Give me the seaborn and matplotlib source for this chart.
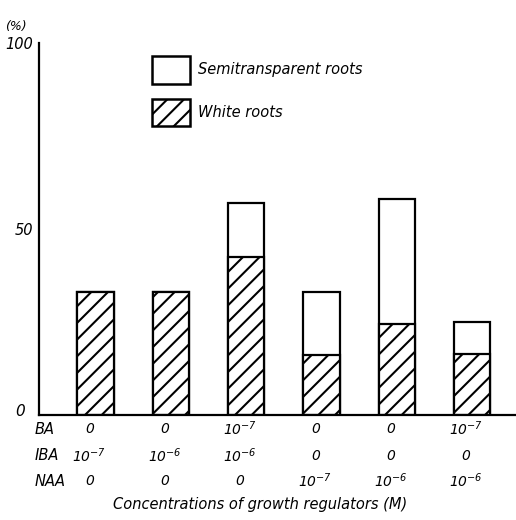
import pandas as pd
import seaborn as sns
import matplotlib.pyplot as plt
from matplotlib.patches import Patch

# Dados (%)
grupos = ['1', '2', '3', '4', '5', '6']
white_roots = [33, 33, 42.5, 16, 24.5, 16.5]
semi_roots = [0, 0, 14.5, 17, 33.5, 8.5]
ba = ['0', '0', '10$^{-7}$', '0', '0', '10$^{-7}$']
iba = ['10$^{-7}$', '10$^{-6}$', '10$^{-6}$', '0', '0', '0']
naa = ['0', '0', '0', '10$^{-7}$', '10$^{-6}$', '10$^{-6}$']

df = pd.DataFrame({'grupo': grupos, 'white': white_roots, 'semi': semi_roots})
df['total'] = df['white'] + df['semi']

sns.set_style('white')
plt.rcParams['font.family'] = ['DejaVu Sans']
plt.rcParams['font.style'] = 'italic'
plt.rcParams['hatch.linewidth'] = 1.5
plt.rcParams['text.color'] = 'black'
plt.rcParams['ytick.color'] = 'black'
plt.rcParams['ytick.labelcolor'] = 'black'

fig = plt.figure(figsize=(5.16, 5.2), dpi=100)
ax = fig.add_axes([0.0756, 0.202, 0.93, 0.715])

# barra total (semitransparente) e depois a parte branca hachurada por cima
sns.barplot(data=df, x='grupo', y='total', color='white', edgecolor='black',
            linewidth=1.6, width=0.48, ax=ax, saturation=1)
sns.barplot(data=df, x='grupo', y='white', color='white', edgecolor='black',
            linewidth=1.6, width=0.48, ax=ax, saturation=1, hatch='//')

ax.set_xlim(-0.75, 5.62)
ax.set_ylim(0, 100)
ax.set_yticks([0, 50, 100])
ax.set_yticklabels(['', '50', '100'], fontsize=10.5)
ax.tick_params(axis='y', direction='in', length=6, width=1.4, pad=4, colors='black')
ax.set_xticks([])
ax.set_xlabel('')
ax.set_ylabel('')
for s in ['top', 'right']:
    ax.spines[s].set_visible(False)
for s in ['left', 'bottom']:
    ax.spines[s].set_linewidth(1.6)
    ax.spines[s].set_color('black')

ax.text(-0.048, 1.035, '(%)', transform=ax.transAxes, fontsize=9, ha='center')
ax.text(-0.03, 0.01, '0', transform=ax.transAxes, fontsize=11, ha='right', va='center')

# tabela de concentrações abaixo do eixo
linhas = [('BA', ba, 429), ('IBA', iba, 456), ('NAA', naa, 481)]
for nome, vals, ypix in linhas:
    yf = 1 - ypix / 520
    fig.text(35 / 516, yf, nome, fontsize=10.5, ha='left', va='center')
    for i, v in enumerate(vals):
        xd = ax.transData.transform((i, 0))[0]
        fig.text(xd / 516 - 0.012, yf, v, fontsize=10, ha='center', va='center')

fig.text(0.505, 1 - 505 / 520, 'Concentrations of growth regulators (M)',
         fontsize=10.5, ha='center', va='center')

# legenda
handles = [Patch(facecolor='white', edgecolor='black', linewidth=1.8, label='Semitransparent roots'),
           Patch(facecolor='white', edgecolor='black', linewidth=1.8, hatch='//', label='White roots')]
ax.legend(handles=handles, loc='upper left', bbox_to_anchor=(0.208, 1.0), frameon=False,
          fontsize=10.5, handlelength=2.6, handleheight=2.5, labelspacing=1.05, handletextpad=0.55)

plt.savefig('out.png', dpi=100)
